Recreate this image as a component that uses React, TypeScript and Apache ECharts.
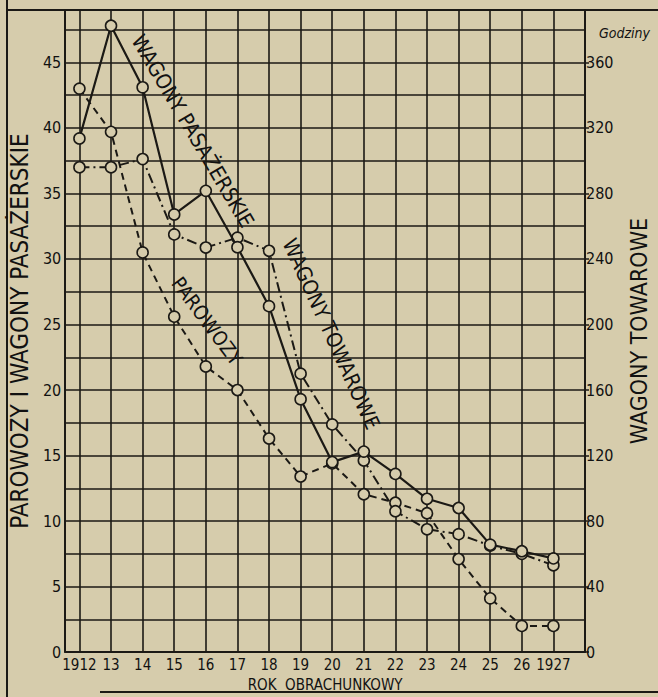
import React, { useEffect, useRef } from "react";
import * as echarts from "echarts";

// Years of the x axis and their printed tick labels
const years = [1912, 1913, 1914, 1915, 1916, 1917, 1918, 1919, 1920, 1921, 1922, 1923, 1924, 1925, 1926, 1927];
const yearLabels = ["1912", "13", "14", "15", "16", "17", "18", "19", "20", "21", "22", "23", "24", "25", "26", "1927"];

// Left axis (Parowozy i wagony pasażerskie)
const wagonyPasazerskie = [39.2, 47.8, 43.1, 33.4, 35.2, 30.9, 26.4, 19.3, 14.5, 15.3, 13.6, 11.7, 11.0, 8.2, 7.7, 7.15];
const parowozy = [43.0, 39.7, 30.5, 25.6, 21.8, 20.0, 16.3, 13.4, 14.4, 12.05, 11.4, 10.6, 7.1, 4.1, 2.0, 2.0];
// Right axis (Godziny – wagony towarowe)
const wagonyTowarowe = [296, 296, 301, 255, 247, 253, 245, 170, 139, 117, 86, 75, 72, 65, 60, 53];

const leftTicks = [0, 5, 10, 15, 20, 25, 30, 35, 40, 45];
const rightTicks = [0, 40, 80, 120, 160, 200, 240, 280, 320, 360];

const PAPER = "#d6ccac";
const INK = "#1b1915";
const FONT = "'DejaVu Sans Condensed', 'DejaVu Sans', sans-serif";

export default function App() {
  const ref = useRef<HTMLDivElement>(null);

  useEffect(() => {
    if (!ref.current) return;
    const chart = echarts.init(ref.current, null, { renderer: "svg" });
    const deg = (d: number) => (d * Math.PI) / 180;

    const symbolStyle = { color: PAPER, borderColor: INK, borderWidth: 1.6 };

    chart.setOption({
      animation: false,
      backgroundColor: PAPER,
      grid: { left: 57, right: 61, top: 10, bottom: 33, containLabel: false },
      xAxis: {
        type: "value",
        min: 1911.55,
        max: 1928,
        splitNumber: 16,
        minInterval: 1,
        maxInterval: 1,
        axisLine: { show: true, lineStyle: { color: INK, width: 2 } },
        axisTick: { show: false },
        splitLine: { show: true, lineStyle: { color: INK, width: 1.6 } },
        axisLabel: {
          color: "#111",
          fontFamily: FONT,
          fontSize: 15,
          margin: 5,
          formatter: (v: number) => {
            const i = years.indexOf(v);
            return i >= 0 ? yearLabels[i] : "";
          },
        },
        name: "ROK  OBRACHUNKOWY",
        nameLocation: "middle",
        nameGap: 21,
        nameTextStyle: { color: "#111", fontFamily: FONT, fontSize: 15 },
      },
      yAxis: [
        {
          type: "value",
          min: 0,
          max: 49,
          interval: 2.5,
          position: "left",
          axisLine: { show: true, lineStyle: { color: INK, width: 2 } },
          axisTick: { show: false },
          splitLine: { show: true, lineStyle: { color: INK, width: 1.6 } },
          axisLabel: {
            color: "#111",
            fontFamily: FONT,
            fontSize: 16,
            margin: 4,
            formatter: (v: number) => (leftTicks.indexOf(v) >= 0 ? String(v) : ""),
          },
          name: "PAROWOZY I WAGONY PASAŻERSKIE",
          nameLocation: "middle",
          nameRotate: 90,
          nameGap: 21,
          nameTextStyle: { color: "#111", fontFamily: FONT, fontSize: 24 },
        },
        {
          type: "value",
          min: 0,
          max: 392,
          interval: 20,
          position: "right",
          axisLine: { show: true, lineStyle: { color: INK, width: 2 } },
          axisTick: { show: true, length: 4, inside: false, customValues: rightTicks, lineStyle: { color: INK, width: 1.5 } },
          splitLine: { show: false },
          axisLabel: {
            color: "#111",
            fontFamily: FONT,
            fontSize: 16,
            margin: 1,
            formatter: (v: number) => (rightTicks.indexOf(v) >= 0 ? String(v) : ""),
          },
          name: "WAGONY TOWAROWE",
          nameLocation: "middle",
          nameRotate: 90,
          nameGap: 42,
          nameTextStyle: { color: "#111", fontFamily: FONT, fontSize: 23 },
        },
      ],
      series: [
        {
          name: "Wagony pasażerskie",
          type: "line",
          yAxisIndex: 0,
          z: 5,
          data: years.map((y, i) => [y, wagonyPasazerskie[i]]),
          symbol: "circle",
          symbolSize: 11,
          lineStyle: { color: INK, width: 2.2, type: "solid" },
          itemStyle: symbolStyle,
        },
        {
          name: "Parowozy",
          type: "line",
          yAxisIndex: 0,
          z: 4,
          data: years.map((y, i) => [y, parowozy[i]]),
          symbol: "circle",
          symbolSize: 11,
          lineStyle: { color: INK, width: 2, type: [7, 5] },
          itemStyle: symbolStyle,
        },
        {
          name: "Wagony towarowe",
          type: "line",
          yAxisIndex: 1,
          z: 4,
          data: years.map((y, i) => [y, wagonyTowarowe[i]]),
          symbol: "circle",
          symbolSize: 11,
          lineStyle: { color: INK, width: 2, type: [10, 4, 2, 4] },
          itemStyle: symbolStyle,
        },
      ],
      graphic: [
        { type: "line", shape: { x1: 7, y1: 0, x2: 7, y2: 697 }, style: { stroke: INK, lineWidth: 2 } },
        { type: "line", shape: { x1: 7, y1: 10, x2: 658, y2: 10 }, style: { stroke: INK, lineWidth: 2 } },
        { type: "line", shape: { x1: 100, y1: 692, x2: 658, y2: 692 }, style: { stroke: INK, lineWidth: 2 } },
        {
          type: "text",
          x: 599,
          y: 33,
          style: { text: "Godziny", font: `italic 14px ${FONT}`, fill: "#111", textAlign: "left", textVerticalAlign: "middle" },
        },
        {
          type: "text",
          x: 193,
          y: 131,
          rotation: deg(-59.5),
          style: { text: "WAGONY PASAŻERSKIE", font: `21px ${FONT}`, fill: "#111", textAlign: "center", textVerticalAlign: "middle" },
        },
        {
          type: "text",
          x: 207,
          y: 321,
          rotation: deg(-53.4),
          style: { text: "PAROWOZY", font: `20px ${FONT}`, fill: "#111", textAlign: "center", textVerticalAlign: "middle" },
        },
        {
          type: "text",
          x: 331,
          y: 334,
          rotation: deg(-65.7),
          style: { text: "WAGONY TOWAROWE", font: `21px ${FONT}`, fill: "#111", textAlign: "center", textVerticalAlign: "middle" },
        },
      ],
    });

    return () => chart.dispose();
  }, []);

  return <div ref={ref} style={{ position: "absolute", left: 0, top: 0, width: 658, height: 697 }} />;
}
